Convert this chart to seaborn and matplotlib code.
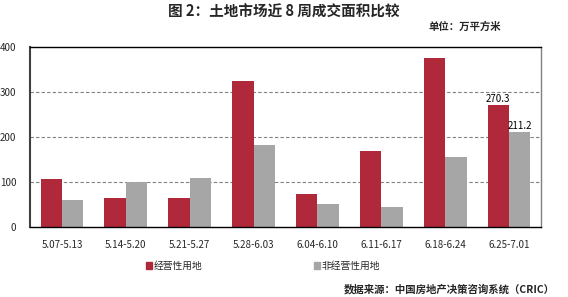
import matplotlib
matplotlib.use("Agg")
import matplotlib.pyplot as plt
import seaborn as sns
import pandas as pd
import numpy as np
from matplotlib.patches import Rectangle

weeks = ["5.07-5.13", "5.14-5.20", "5.21-5.27", "5.28-6.03",
         "6.04-6.10", "6.11-6.17", "6.18-6.24", "6.25-7.01"]
commercial = [106, 65, 65, 324, 73, 168, 376, 270.3]
noncommercial = [60, 100, 108, 183, 51, 45, 156, 211.2]
series_names = ["经营性用地", "非经营性用地"]
yticks = [0, 100, 200, 300, 400]

sns.set_theme(style="white")
plt.rcParams['font.family'] = ['Noto Sans CJK SC', 'DejaVu Sans']

df = pd.DataFrame({
    "week": weeks * 2,
    "value": commercial + noncommercial,
    "type": [series_names[0]] * len(weeks) + [series_names[1]] * len(weeks),
})

colors = ["#B0293A", "#A6A6A6"]

fig = plt.figure(figsize=(5.68, 2.97), dpi=100)
ax = fig.add_axes([30/568, 1 - 227/297, (541-30)/568, (227-47)/297])

sns.barplot(data=df, x="week", y="value", hue="type", palette=colors,
            width=0.67, ax=ax, legend=False, saturation=1, edgecolor="none")

ax.set_ylim(0, 400)
ax.set_xlim(-0.5, len(weeks) - 0.5)
ax.set_yticks(yticks)
ax.set_yticklabels([str(v) for v in yticks], fontsize=7)
ax.tick_params(axis="y", length=0, pad=10)
ax.set_xticks(range(len(weeks)))
ax.set_xticklabels(weeks, fontsize=7)
ax.tick_params(axis="x", which="major", length=0, pad=9)
ax.set_xticks(np.arange(-0.5, len(weeks), 1.0), minor=True)
ax.tick_params(axis="x", which="minor", length=4, width=0.8, color="black", direction="out")
ax.set_xlabel("")
ax.set_ylabel("")

for y in [100, 200, 300]:
    ax.axhline(y, color="#808080", linestyle=(0, (3, 2)), linewidth=0.8, zorder=0)

for s in ["top", "bottom"]:
    ax.spines[s].set_color("black")
    ax.spines[s].set_linewidth(1.0)
ax.spines["left"].set_color("#404040")
ax.spines["left"].set_linewidth(1.5)
ax.spines["right"].set_color("#808080")
ax.spines["right"].set_linewidth(1.0)

# value labels on the last group
bars = ax.containers
last = len(weeks) - 1
for cont, vals in zip(bars, [commercial, noncommercial]):
    b = cont[last]
    ax.text(b.get_x() + b.get_width() / 2, vals[last] + 3, f"{vals[last]:.1f}",
            ha="center", va="bottom", fontsize=7, color="black")

fig.text(0.5, 1 - 12/297, "图 2：土地市场近 8 周成交面积比较", ha="center", va="center",
         fontsize=10.5, fontweight="bold")
fig.text(501/568, 1 - 27/297, "单位：万平方米", ha="right", va="center",
         fontsize=7.5, fontweight="bold")

# legend
handles = [Rectangle((0, 0), 1, 1, color=c) for c in colors]
leg = fig.legend(handles, series_names, loc="center", bbox_to_anchor=(263/568, 1 - 266/297),
                 ncol=2, frameon=False, fontsize=7, handlelength=0.6, handleheight=0.6,
                 handletextpad=0.2, columnspacing=11.5)

fig.text(555/568, 1 - 289/297, "数据来源：中国房地产决策咨询系统（CRIC）", ha="right",
         va="center", fontsize=7.5, fontweight="bold")

fig.savefig("out.png", dpi=100)
